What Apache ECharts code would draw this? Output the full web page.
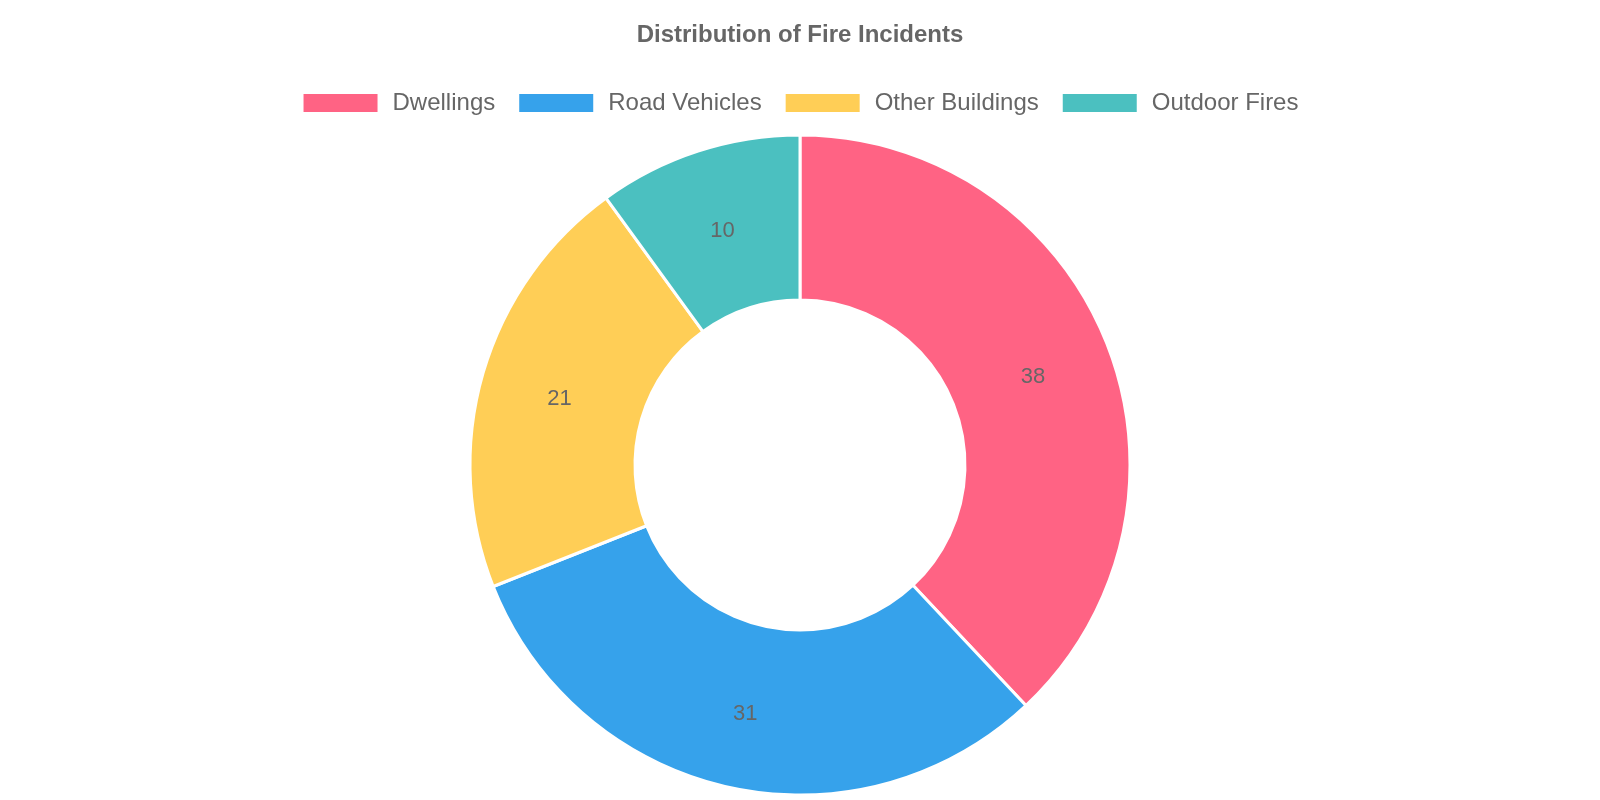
<!DOCTYPE html>
<html>
<head>
<meta charset="utf-8">
<title>Distribution of Fire Incidents</title>
<script src="https://cdn.jsdelivr.net/npm/echarts@6/dist/echarts.min.js"></script>
<style>
  html, body { margin: 0; padding: 0; background: #fff; }
  #chart { width: 1600px; height: 800px; }
</style>
</head>
<body>
<div id="chart"></div>
<script>
// data
const categories = ["Dwellings", "Road Vehicles", "Other Buildings", "Outdoor Fires"];
const values = [38, 31, 21, 10];
const colors = ["#FF6384", "#36A2EB", "#FFCE56", "#4BC0C0"];

{
  let arr = [];
  for (let i = 0; i < categories.length; ++i) {
    arr.push({ name: categories[i], value: values[i], itemStyle: { color: colors[i] } });
  }

  const dom = document.getElementById("chart");
  const myChart = echarts.init(dom);
  const option = {
    animation: false,
    title: {
      text: "Distribution of Fire Incidents",
      left: "center",
      top: 18,
      textStyle: {
        fontFamily: "Liberation Sans",
        fontSize: 24,
        fontWeight: "bold",
        color: "#666",
      },
    },
    legend: {
      data: categories,
      top: 86,
      left: "center",
      icon: "rect",
      itemWidth: 76,
      itemHeight: 20,
      itemGap: 22,
      textStyle: {
        fontFamily: "Liberation Sans",
        fontSize: 24,
        color: "#666",
        padding: [0, 0, 0, 9],
      },
    },
    series: [
      {
        type: "pie",
        center: [800, 465],
        radius: [165, 330],
        startAngle: 90,
        clockwise: true,
        data: arr,
        itemStyle: { borderColor: "#fff", borderWidth: 3 },
        label: {
          show: true,
          position: "inside",
          formatter: "{v|{c}}",
          rich: {
            v: {
              fontFamily: "Liberation Sans",
              fontSize: 22,
              color: "#666",
              padding: [8, 0, 0, 0],
            },
          },
        },
        labelLine: { show: false },
        emphasis: { scale: false },
      },
    ],
  };
  myChart.setOption(option, true);
}
</script>
</body>
</html>
